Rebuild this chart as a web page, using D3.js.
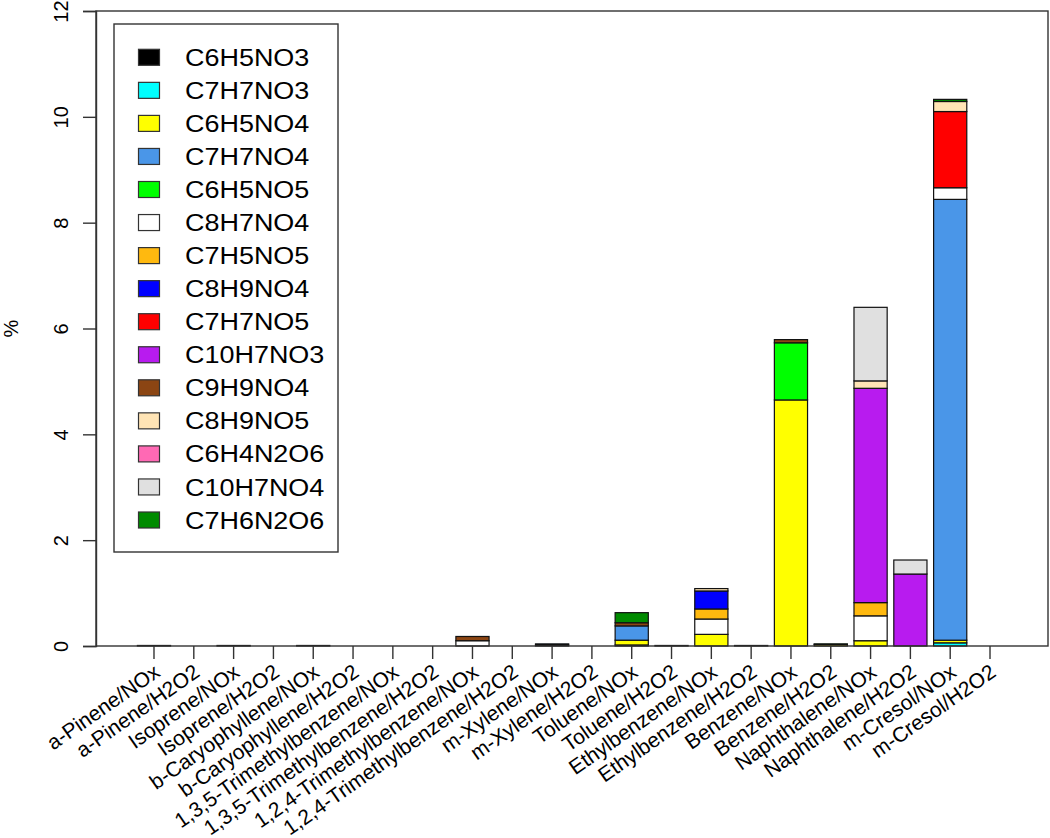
<!DOCTYPE html>
<html>
<head>
<meta charset="utf-8">
<script src="https://cdn.jsdelivr.net/npm/d3@7"></script>
<style>
  html, body { margin: 0; padding: 0; background: #fff; }
  svg { display: block; font-family: "Liberation Sans", Arial, sans-serif; }
</style>
</head>
<body>
<svg id="chart" width="1050" height="838"></svg>
<script>
// ---------------- DATA ----------------
const categories = [
  "a-Pinene/NOx", "a-Pinene/H2O2", "Isoprene/NOx", "Isoprene/H2O2",
  "b-Caryophyllene/NOx", "b-Caryophyllene/H2O2",
  "1,3,5-Trimethylbenzene/NOx", "1,3,5-Trimethylbenzene/H2O2",
  "1,2,4-Trimethylbenzene/NOx", "1,2,4-Trimethylbenzene/H2O2",
  "m-Xylene/NOx", "m-Xylene/H2O2", "Toluene/NOx", "Toluene/H2O2",
  "Ethylbenzene/NOx", "Ethylbenzene/H2O2", "Benzene/NOx", "Benzene/H2O2",
  "Naphthalene/NOx", "Naphthalene/H2O2", "m-Cresol/NOx", "m-Cresol/H2O2"
];

const seriesNames = [
  "C6H5NO3", "C7H7NO3", "C6H5NO4", "C7H7NO4", "C6H5NO5", "C8H7NO4",
  "C7H5NO5", "C8H9NO4", "C7H7NO5", "C10H7NO3", "C9H9NO4", "C8H9NO5",
  "C6H4N2O6", "C10H7NO4", "C7H6N2O6"
];

const seriesColors = [
  "#000000", "#00ffff", "#ffff00", "#4a96e8", "#00ff00", "#ffffff",
  "#ffb90f", "#0000ff", "#ff0000", "#b81bef", "#8b4513", "#ffe4b5",
  "#ff69b4", "#e0e0e0", "#008b00"
];

//                  0  1    2  3    4  5  6  7    8  9   10 11    12    13    14    15    16    17    18    19    20  21
const C6H5NO3  = [0, 0,   0, 0,   0, 0, 0, 0,   0, 0,   0, 0,   0.02, 0,    0,    0,    0,    0,    0,    0,    0,    0];
const C7H7NO3  = [0, 0,   0, 0,   0, 0, 0, 0,   0, 0,   0, 0,   0,    0,    0,    0,    0,    0,    0,    0,    0.06, 0];
const C6H5NO4  = [0.01, 0, 0.01, 0, 0.01, 0, 0, 0, 0, 0, 0.02, 0, 0.09, 0.01, 0.22, 0.01, 4.65, 0.03, 0.10, 0,    0.05, 0];
const C7H7NO4  = [0, 0,   0, 0,   0, 0, 0, 0,   0, 0,   0.02, 0, 0.27, 0,    0,    0,    0,    0,    0,    0,    8.33, 0];
const C6H5NO5  = [0, 0,   0, 0,   0, 0, 0, 0,   0, 0,   0, 0,   0,    0,    0,    0,    1.08, 0.01, 0,    0,    0,    0];
const C8H7NO4  = [0, 0,   0, 0,   0, 0, 0, 0,   0.10, 0, 0, 0,  0,    0,    0.29, 0,    0,    0,    0.47, 0,    0.22, 0];
const C7H5NO5  = [0, 0,   0, 0,   0, 0, 0, 0,   0, 0,   0, 0,   0,    0,    0.19, 0,    0,    0,    0.25, 0,    0,    0];
const C8H9NO4  = [0, 0,   0, 0,   0, 0, 0, 0,   0, 0,   0, 0,   0,    0,    0.34, 0,    0,    0,    0,    0,    0,    0];
const C7H7NO5  = [0, 0,   0, 0,   0, 0, 0, 0,   0, 0,   0, 0,   0,    0,    0,    0,    0,    0,    0,    0,    1.44, 0];
const C10H7NO3 = [0, 0,   0, 0,   0, 0, 0, 0,   0, 0,   0, 0,   0,    0,    0,    0,    0,    0,    4.05, 1.36, 0,    0];
const C9H9NO4  = [0, 0,   0, 0,   0, 0, 0, 0,   0.08, 0, 0, 0,  0.06, 0,    0,    0,    0.06, 0,    0,    0,    0,    0];
const C8H9NO5  = [0, 0,   0, 0,   0, 0, 0, 0,   0, 0,   0, 0,   0,    0,    0.045, 0,   0,    0,    0.14, 0,    0.19, 0];
const C6H4N2O6 = [0, 0,   0, 0,   0, 0, 0, 0,   0, 0,   0, 0,   0,    0,    0,    0,    0,    0,    0,    0,    0,    0];
const C10H7NO4 = [0, 0,   0, 0,   0, 0, 0, 0,   0, 0,   0, 0,   0,    0,    0,    0,    0,    0,    1.39, 0.265, 0,   0];
const C7H6N2O6 = [0, 0,   0, 0,   0, 0, 0, 0,   0, 0,   0, 0,   0.19, 0,    0,    0,    0,    0,    0,    0,    0.04, 0];

const seriesValues = [
  C6H5NO3, C7H7NO3, C6H5NO4, C7H7NO4, C6H5NO5, C8H7NO4, C7H5NO5, C8H9NO4,
  C7H7NO5, C10H7NO3, C9H9NO4, C8H9NO5, C6H4N2O6, C10H7NO4, C7H6N2O6
];

const yTicks = [0, 2, 4, 6, 8, 10, 12];
const yLabel = "%";

// ---------------- LAYOUT ----------------
const svg = d3.select("#chart");
const plot = { left: 96, right: 1048, top: 11, bottom: 646 };
const lineColor = "#333";

const x = d3.scaleBand()
  .domain(categories)
  .range([plot.left, plot.right])
  .paddingInner(0.2 / 1.2)
  .paddingOuter((0.2 + 0.04 * 26.2) / 1.2);

const y = d3.scaleLinear().domain([0, 12]).range([plot.bottom, plot.top]);

// table for stacking
const table = categories.map((c, i) => {
  const row = { cat: c };
  seriesNames.forEach((s, k) => { row[s] = seriesValues[k][i]; });
  return row;
});
const stacked = d3.stack().keys(seriesNames)(table);
const colorOf = d3.scaleOrdinal().domain(seriesNames).range(seriesColors);

// bars
const layers = svg.append("g").selectAll("g")
  .data(stacked).join("g")
  .attr("fill", d => colorOf(d.key));

layers.selectAll("rect")
  .data(d => d.filter(p => p[1] - p[0] > 0))
  .join("rect")
  .attr("x", d => x(d.data.cat))
  .attr("width", x.bandwidth())
  .attr("y", d => y(d[1]))
  .attr("height", d => y(d[0]) - y(d[1]))
  .attr("stroke", "#111")
  .attr("stroke-width", 1.2);

// frame
svg.append("rect")
  .attr("x", plot.left).attr("y", plot.top)
  .attr("width", plot.right - plot.left).attr("height", plot.bottom - plot.top)
  .attr("fill", "none").attr("stroke", lineColor).attr("stroke-width", 1.4);

// y axis
const yAxis = svg.append("g")
  .attr("transform", `translate(${plot.left},0)`)
  .call(d3.axisLeft(y).tickValues(yTicks).tickSize(13).tickFormat(d3.format("d")));
yAxis.select(".domain").attr("stroke", lineColor).attr("stroke-width", 1.4);
yAxis.selectAll(".tick line").attr("stroke", lineColor).attr("stroke-width", 1.4);
yAxis.selectAll(".tick text")
  .attr("x", null).attr("dy", null)
  .attr("transform", "translate(-35,0) rotate(-90)")
  .attr("text-anchor", "middle")
  .attr("dominant-baseline", "central")
  .attr("font-size", 20)
  .attr("font-family", "Liberation Sans, Arial, sans-serif")
  .attr("fill", "#000");

// x axis
const xAxis = svg.append("g")
  .attr("transform", `translate(0,${plot.bottom})`)
  .call(d3.axisBottom(x).tickSize(13));
xAxis.select(".domain").remove();
xAxis.selectAll(".tick line").attr("stroke", lineColor).attr("stroke-width", 1.4);
xAxis.selectAll(".tick text")
  .attr("y", null).attr("dy", null)
  .attr("transform", "translate(3,23) rotate(-35)")
  .attr("text-anchor", "end")
  .attr("dominant-baseline", "central")
  .attr("font-size", 21)
  .attr("font-family", "Liberation Sans, Arial, sans-serif")
  .attr("fill", "#000");

// y label
svg.append("text")
  .attr("transform", `translate(11,${(plot.top + plot.bottom) / 2}) rotate(-90)`)
  .attr("text-anchor", "middle")
  .attr("dominant-baseline", "central")
  .attr("font-size", 20)
  .text(yLabel);

// legend
const legend = { x: 114, y: 24, w: 224, h: 528, rowStep: 33.05, firstRow: 57.3 };
svg.append("rect")
  .attr("x", legend.x).attr("y", legend.y)
  .attr("width", legend.w).attr("height", legend.h)
  .attr("fill", "#fff").attr("stroke", lineColor).attr("stroke-width", 1.4);

const items = svg.append("g").selectAll("g")
  .data(seriesNames).join("g")
  .attr("transform", (d, i) => `translate(0,${legend.firstRow + i * legend.rowStep})`);
items.append("rect")
  .attr("x", 138.5).attr("y", -8).attr("width", 21).attr("height", 16)
  .attr("fill", d => colorOf(d)).attr("stroke", "#333").attr("stroke-width", 1.2);
items.append("text")
  .attr("transform", "translate(185,0) scale(1.1,1)")
  .attr("dominant-baseline", "central")
  .attr("font-size", 24.5)
  .attr("fill", "#000")
  .text(d => d);
</script>
</body>
</html>
